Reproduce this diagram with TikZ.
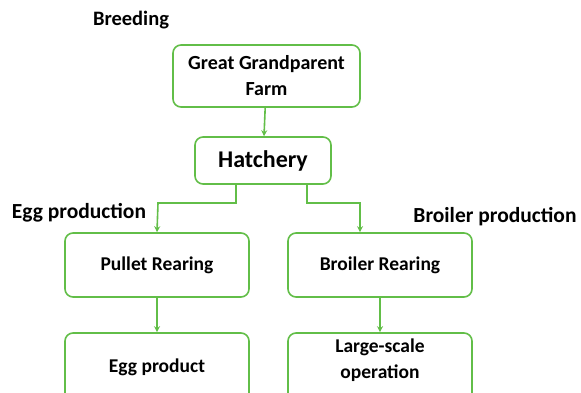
\documentclass[tikz,border=0pt]{standalone}
\usepackage{fontspec}
\setmainfont{Carlito}
\usetikzlibrary{arrows.meta}
\definecolor{boxgreen}{RGB}{98,190,72}
\tikzset{
	stage/.style={draw=boxgreen,line width=1.6pt,rounded corners=8pt,fill=white,align=center,font=\fontsize{19.5}{26}\selectfont\bfseries,inner sep=0pt},
	tag/.style={font=\fontsize{21.5}{25}\selectfont\bfseries,inner sep=0pt},
	flow/.style={draw=boxgreen,line width=1.6pt,-{Stealth[length=6pt,width=6pt]}}
}
\begin{document}
\begin{tikzpicture}[x=1pt,y=-1pt]
		\useasboundingbox (0,0) rectangle (581,393);
		\clip (0,0) rectangle (581,393);

		% Boxes
		\node[stage,minimum width=187pt,minimum height=62pt,font=\fontsize{20}{26}\selectfont\bfseries] (ggp) at (266.5,76) {Great Grandparent\\Farm};
		\node[stage,minimum width=136pt,minimum height=47pt,font=\fontsize{24}{28}\selectfont\bfseries] (hatch) at (263,160.5) {Hatchery};
		\node[stage,minimum width=184pt,minimum height=64pt] (pullet) at (157,265) {Pullet Rearing};
		\node[stage,minimum width=184pt,minimum height=64pt] (broiler) at (380,265) {Broiler Rearing};
		\node[stage,minimum width=184pt,minimum height=74pt] (egg) at (157,370) {\raisebox{-2pt}[0pt][0pt]{Egg product}};
		\node[stage,minimum width=184pt,minimum height=74pt] (large) at (380,370) {\raisebox{5pt}[0pt][0pt]{\begin{tabular}{@{}c@{}}Large-scale\\operation\end{tabular}}};

		% Labels
		\node[tag,font=\fontsize{20.5}{25}\selectfont\bfseries] (breed) at (131,20) {Breeding};
		\node[tag] (eggprod) at (79,213) {Egg production};
		\node[tag] (broilprod) at (495,217) {Broiler production};

		% Arrows
		\draw[flow] ([xshift=-27pt]hatch.south) |- (158,203) -- (pullet.north);
		\draw[flow] ([xshift=44pt]hatch.south) |- (360,203) -- ([xshift=-20pt]broiler.north);
		\draw[flow] (ggp) -- (hatch);
		\draw[flow] (pullet) -- (pullet |- egg.north);
		\draw[flow] (broiler) -- (broiler |- large.north);
\end{tikzpicture}
\end{document}
